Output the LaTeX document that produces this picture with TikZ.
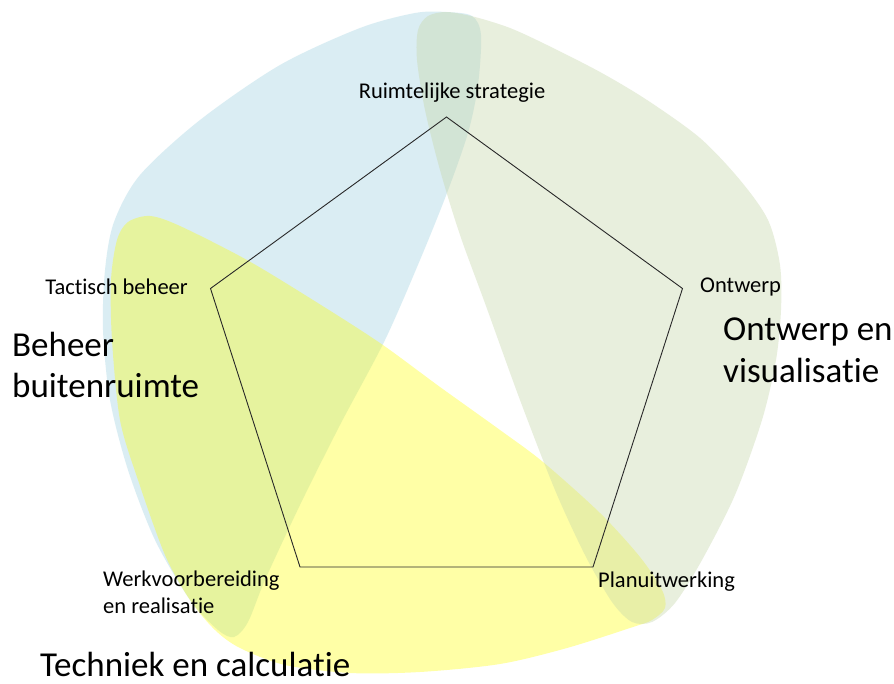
\documentclass[tikz,border=0pt]{standalone}
\usepackage{fontspec}
\setmainfont{Carlito}[Ligatures={NoCommon,NoContextual,NoRare}]
\definecolor{blobblue}{RGB}{183,221,232}
\definecolor{blobgreen}{RGB}{199,215,170}
\definecolor{blobyellow}{RGB}{255,255,0}
\definecolor{linegray}{RGB}{40,40,40}
\tikzset{
  small/.style={inner sep=0pt, font=\fontsize{22.5}{27}\selectfont, text=black},
  big/.style={inner sep=0pt, font=\fontsize{35}{41}\selectfont, text=black, align=left},
  pent/.style={draw=linegray, line width=0.9pt, line join=miter},
}
\begin{document}
\begin{tikzpicture}[x=1pt,y=-1pt]
\useasboundingbox (0,0) rectangle (894,684);
\fill[white] (0,0) rectangle (894,684);
% blue blob: Beheer buitenruimte
\fill[blobblue, fill opacity=0.5] plot[smooth cycle, tension=0.5] coordinates {
 (446,12) (472,16) (481,35) (478,85) (468,133) (447,193) (420,260) (385,340)
 (340,425) (300,505) (265,580) (248,622) (234,637) (218,630) (190,600)
 (155,540) (128,470) (110,400) (103,330) (105,270) (114,222) (140,175)
 (200,120) (280,65) (360,28) (415,13)};
% yellow blob: Techniek en calculatie
\fill[blobyellow, fill opacity=0.35] plot[smooth cycle, tension=0.5] coordinates {
 (128,222) (150,216) (180,226) (247,260) (313,300) (380,343) (440,387)
 (500,430) (543,462) (600,513) (640,557) (662,590) (665,608) (652,620)
 (633,627) (567,648) (500,664) (420,672) (350,673) (285,665) (240,648)
 (215,630) (190,600) (165,555) (138,480) (120,420) (112,340) (111,280) (117,240)};
% green blob: Ontwerp en visualisatie
\fill[blobgreen, fill opacity=0.4] plot[smooth cycle, tension=0.5] coordinates {
 (447,12) (475,17) (510,28) (547,45) (600,72) (647,100) (700,138) (740,180)
 (768,220) (780,265) (781,310) (776,360) (762,420) (735,495) (702,560)
 (675,603) (652,622) (632,622) (612,602) (585,555) (555,490) (520,400)
 (486,306) (460,235) (440,170) (425,110) (417,60) (418,30) (428,16)};
% pentagon
\coordinate (vt) at (446.5,117);
\coordinate (vr) at (682.5,288.5);
\coordinate (vbr) at (593,567);
\coordinate (vbl) at (300,567);
\coordinate (vl) at (210.5,288.5);
\draw[pent] (vt) -- (vr) -- (vbr) -- (vbl) -- (vl) -- cycle;
% labels
\node[small, anchor=base] (lrs) at (452,99) {Ruimtelijke strategie};
\node[small, anchor=base west] (lon) at (700,293) {Ontwerp};
\node[small, anchor=base east] (ltb) at (188,295) {Tactisch beheer};
\node[small, anchor=base west, align=left] (lwv) at (103,613) {Werkvoorbereiding\\en realisatie};
\node[small, anchor=base west] (lpu) at (598,587) {Planuitwerking};
\node[big, anchor=base west] (gov) at (723,382) {Ontwerp en\\visualisatie};
\node[big, anchor=base west] (gbb) at (12,397) {Beheer\\buitenruimte};
\node[big, anchor=base west] (gtc) at (40,676) {Techniek en calculatie};
\end{tikzpicture}
\end{document}
